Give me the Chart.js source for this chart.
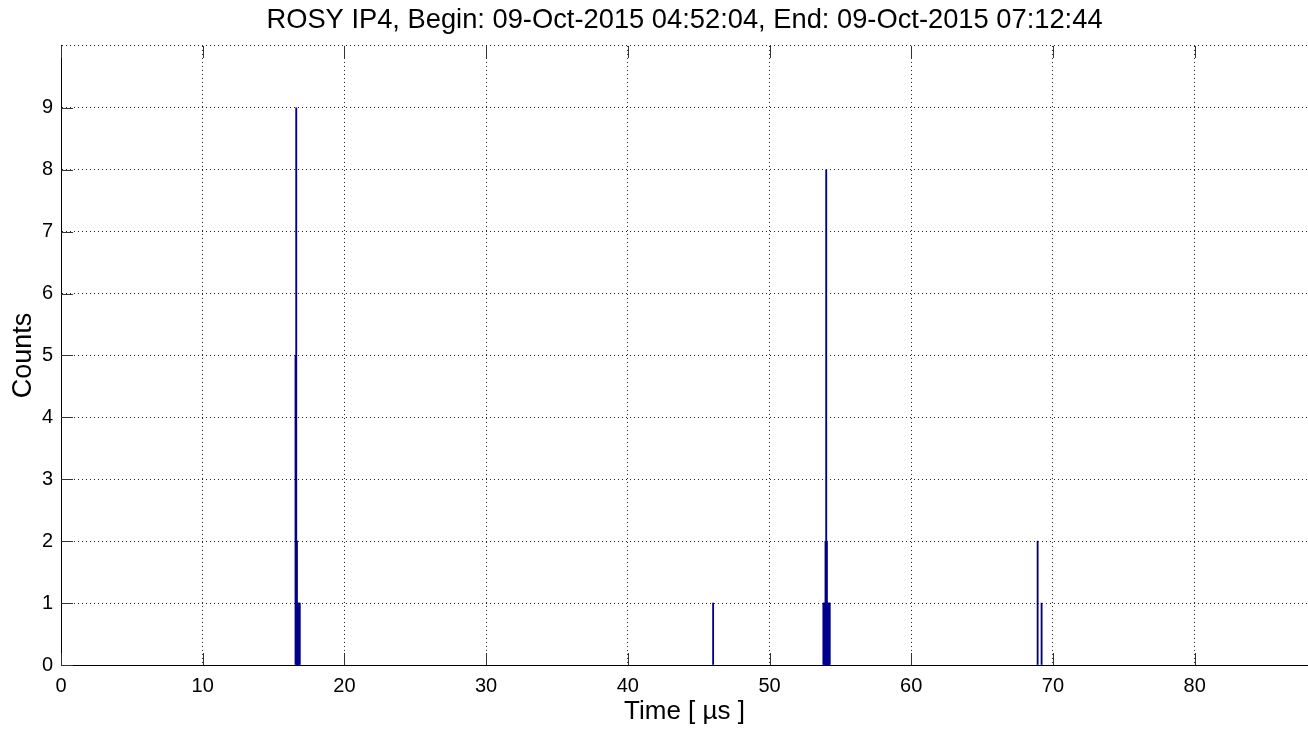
<!DOCTYPE html>
<html>
<head>
<meta charset="utf-8">
<title>ROSY IP4 counts</title>
<script src="https://cdn.jsdelivr.net/npm/chart.js@4.4.1/dist/chart.umd.min.js"></script>
<style>
    html, body { margin: 0; padding: 0; background: #fff; }
    #wrap { width: 1308px; height: 733px; position: relative; }
</style>
</head>
<body>
<div id="wrap"><canvas id="chartCanvas"></canvas></div>
<script>
// Histogram bins (time in microseconds) and counts
const binTimes  = [16.55, 16.60, 16.65, 16.70, 16.75, 16.80, 16.85,
                   46.02,
                   53.80, 53.85, 53.90, 53.95, 54.00, 54.05, 54.10, 54.15, 54.20, 54.25,
                   68.92, 69.20];
const binCounts = [5, 9, 2, 1, 1, 1, 1,
                   1,
                   1, 1, 1, 2, 8, 2, 1, 1, 1, 1,
                   2, 1];
const xTicks = [0, 10, 20, 30, 40, 50, 60, 70, 80];
const yTicks = [0, 1, 2, 3, 4, 5, 6, 7, 8, 9];

const titleText = 'ROSY IP4, Begin: 09-Oct-2015 04:52:04, End: 09-Oct-2015 07:12:44';
const fontFamily = '"Liberation Sans", Arial, Helvetica, sans-serif';

document.addEventListener('DOMContentLoaded', function() {
    const points = binTimes.map((t, i) => ({ x: t, y: binCounts[i] }));

    // small inward tick marks like the original plot
    const innerTicks = {
        id: 'innerTicks',
        afterDatasetsDraw(chart) {
            const c = chart.ctx;
            const area = chart.chartArea;
            const xs = chart.scales.x;
            const ys = chart.scales.y;
            c.save();
            c.strokeStyle = '#333';
            c.lineWidth = 1;
            c.beginPath();
            xTicks.forEach(v => {
                const px = Math.round(xs.getPixelForValue(v)) + 0.5;
                c.moveTo(px, area.bottom);
                c.lineTo(px, area.bottom - 12);
                c.moveTo(px, area.top);
                c.lineTo(px, area.top + 12);
            });
            yTicks.forEach(v => {
                const py = Math.round(ys.getPixelForValue(v)) + 0.5;
                c.moveTo(area.left, py);
                c.lineTo(area.left + 12, py);
            });
            c.stroke();
            c.restore();
        }
    };

    const ctx = document.getElementById('chartCanvas').getContext('2d');
    new Chart(ctx, {
        type: 'bar',
        data: {
            datasets: [{
                label: 'Counts',
                data: points,
                backgroundColor: '#00008f',
                borderWidth: 0,
                barThickness: 1.2
            }]
        },
        options: {
            responsive: true,
            maintainAspectRatio: false,
            animation: false,
            layout: { padding: 0 },
            plugins: {
                legend: { display: false },
                tooltip: { enabled: false },
                title: {
                    display: true,
                    fullSize: false,
                    text: titleText,
                    color: '#000',
                    font: { family: fontFamily, size: 27.3, weight: 'normal', lineHeight: 1.2 },
                    padding: { top: 4, bottom: 9.2 }
                }
            },
            scales: {
                x: {
                    type: 'linear',
                    min: 0,
                    max: 88,
                    offset: false,
                    afterFit(scale) { scale.height = 68; },
                    ticks: {
                        stepSize: 10,
                        includeBounds: false,
                        autoSkip: false,
                        maxRotation: 0,
                        color: '#000',
                        padding: 9,
                        font: { family: fontFamily, size: 20 }
                    },
                    grid: {
                        offset: false,
                        drawTicks: false,
                        color: '#222',
                        lineWidth: 1
                    },
                    border: { display: true, color: '#000', width: 1, dash: [1, 3] },
                    title: {
                        display: true,
                        text: 'Time [ \u00b5s ]',
                        color: '#000',
                        font: { family: fontFamily, size: 26, lineHeight: 1.2 },
                        padding: { top: 0, bottom: 6 }
                    }
                },
                y: {
                    min: 0,
                    max: 10,
                    afterFit(scale) { scale.width = 61; },
                    ticks: {
                        stepSize: 1,
                        color: '#000',
                        padding: 8,
                        font: { family: fontFamily, size: 20 },
                        callback: v => (v === 10 ? '' : v)
                    },
                    grid: {
                        drawTicks: false,
                        color: '#222',
                        lineWidth: 1
                    },
                    border: { display: true, color: '#000', width: 1, dash: [1, 3] },
                    title: {
                        display: true,
                        text: 'Counts',
                        color: '#000',
                        font: { family: fontFamily, size: 27, lineHeight: 1.2 },
                        padding: { top: 7, bottom: 0 }
                    }
                }
            }
        },
        plugins: [innerTicks]
    });
});
</script>
</body>
</html>
